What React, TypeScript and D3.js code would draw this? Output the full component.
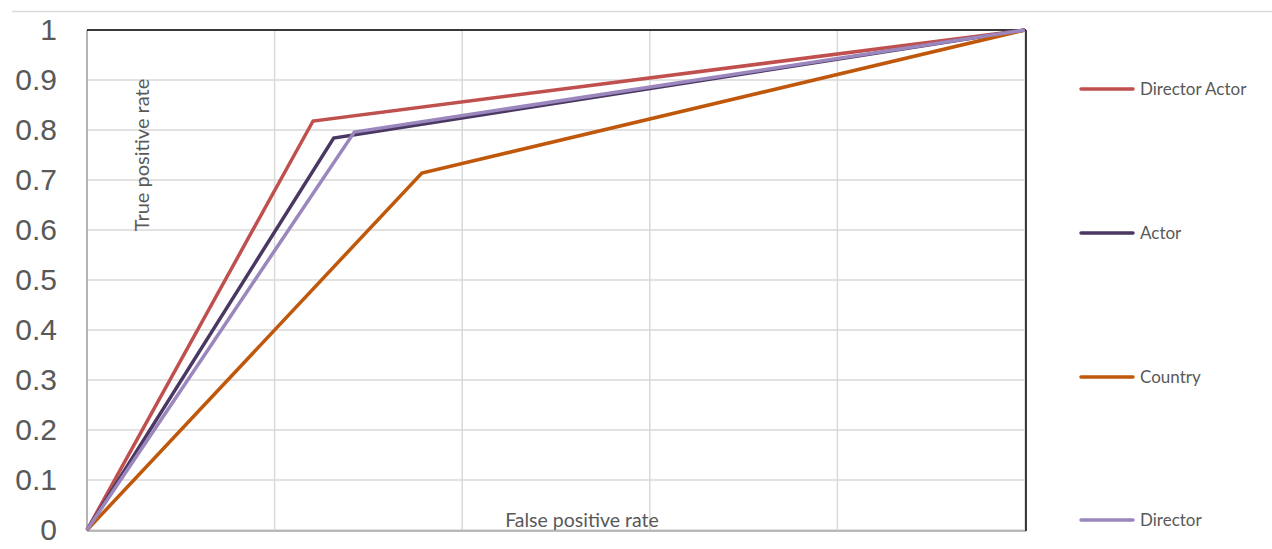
import React from "react";
import * as d3 from "d3";

const seriesNames = ["Director Actor", "Actor", "Country", "Director"];
const seriesColors = ["#C0504D", "#4A3862", "#C0580B", "#9B86BE"];
const fprValues = [
  [0, 0.241, 1],
  [0, 0.263, 1],
  [0, 0.357, 1],
  [0, 0.285, 1],
];
const tprValues = [
  [0, 0.818, 1],
  [0, 0.784, 1],
  [0, 0.714, 1],
  [0, 0.796, 1],
];
const yTicks = [0, 0.1, 0.2, 0.3, 0.4, 0.5, 0.6, 0.7, 0.8, 0.9, 1];
const xTicks = [0, 0.2, 0.4, 0.6, 0.8, 1];
const legendY = [89, 233, 377, 520];

export default function App() {
  const W = 1272;
  const H = 549;
  const x = d3.scaleLinear().domain([0, 1]).range([87, 1025]);
  const y = d3.scaleLinear().domain([0, 1]).range([530, 30]);
  const line = d3
    .line<[number, number]>()
    .x((d) => x(d[0]))
    .y((d) => y(d[1]));
  const fmt = (v: number) => (v === 0 || v === 1 ? String(v) : v.toFixed(1));
  return (
    <svg
      width={W}
      height={H}
      style={{ position: "absolute", left: 0, top: 0, background: "#fff" }}
    >
      <line x1={12} x2={1272} y1={11.5} y2={11.5} stroke="#d9d9d9" strokeWidth={1.5} />
      {yTicks.map((t) => (
        <line key={"h" + t} x1={x(0)} x2={x(1)} y1={y(t)} y2={y(t)} stroke="#d9d9d9" strokeWidth={1.5} />
      ))}
      {xTicks.map((t) => (
        <line key={"v" + t} x1={x(t)} x2={x(t)} y1={y(0)} y2={y(1)} stroke="#d9d9d9" strokeWidth={1.5} />
      ))}
      <line x1={x(0)} x2={x(0)} y1={y(0) + 1} y2={y(1)} stroke="#a6a6a6" strokeWidth={1.5} />
      <line x1={x(0)} x2={x(1) + 1} y1={y(0) + 1} y2={y(0) + 1} stroke="#a6a6a6" strokeWidth={1.5} />
      <line x1={x(0)} x2={x(1) + 1} y1={y(1)} y2={y(1)} stroke="#000" strokeWidth={1.5} />
      <line x1={x(1) + 1} x2={x(1) + 1} y1={y(1)} y2={y(0) + 1} stroke="#000" strokeWidth={1.5} />
      {yTicks.map((t) => (
        <text
          key={"yl" + t}
          x={57}
          y={y(t) + 10}
          textAnchor="end"
          fontFamily="Liberation Sans, Arial, sans-serif"
          fontSize={30}
          fill="#595959"
        >
          {fmt(t)}
        </text>
      ))}
      <text
        transform={`translate(149,155) rotate(-90)`}
        textAnchor="middle"
        fontFamily="Lato, sans-serif"
        fontSize={20}
        fill="#595959"
      >
        True positive rate
      </text>
      <text
        x={582}
        y={527}
        textAnchor="middle"
        fontFamily="Lato, sans-serif"
        fontSize={19.5}
        fill="#595959"
      >
        False positive rate
      </text>
      {seriesNames.map((n, i) => (
        <path
          key={n}
          d={line(fprValues[i].map((v, j) => [v, tprValues[i][j]] as [number, number])) || ""}
          fill="none"
          stroke={seriesColors[i]}
          strokeWidth={3.5}
          strokeLinejoin="miter"
        />
      ))}
      {seriesNames.map((n, i) => (
        <g key={"lg" + n}>
          <line
            x1={1081}
            x2={1133}
            y1={legendY[i]}
            y2={legendY[i]}
            stroke={seriesColors[i]}
            strokeWidth={3.5}
            strokeLinecap="round"
          />
          <text
            x={1140}
            y={legendY[i] + 6}
            fontFamily="Lato, sans-serif"
            fontSize={17}
            fill="#595959"
          >
            {n}
          </text>
        </g>
      ))}
    </svg>
  );
}
